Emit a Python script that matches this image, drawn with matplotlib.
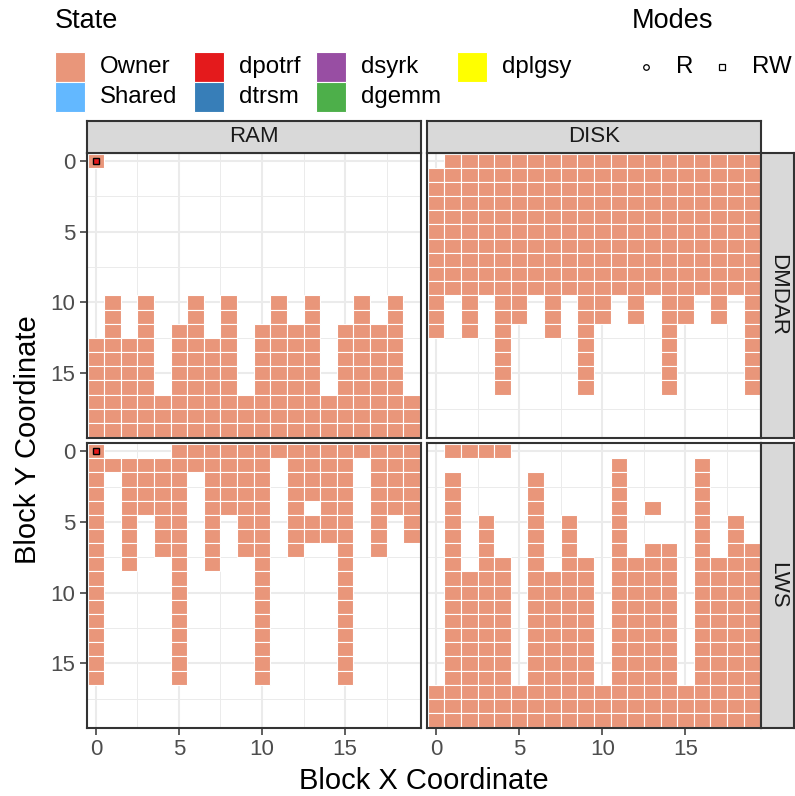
import numpy as np
import matplotlib
matplotlib.use('Agg')
import matplotlib.pyplot as plt

plt.rcParams['font.family'] = ['Liberation Sans', 'DejaVu Sans']

W, H = 795, 796

# ---- data: one string per block row (y = 0..19), one char per block column (x = 0..19)
dmdar_ram = [
    "#...................",
    "....................",
    "....................",
    "....................",
    "....................",
    "....................",
    "....................",
    "....................",
    "....................",
    "....................",
    ".#.#..#.#..#.#..#.#.",
    ".#.#..#.#..#.#..#.#.",
    ".#.#.##.#.####.####.",
    "####.####.####.####.",
    "####.####.####.####.",
    "####.####.####.####.",
    "####.####.####.####.",
    "####################",
    "####################",
    "####################",
]
dmdar_disk = [
    ".###################",
    "####################",
    "####################",
    "####################",
    "####################",
    "####################",
    "####################",
    "####################",
    "####################",
    "####################",
    "#.#.##.#.##.#.##.#.#",
    "#.#.##.#.##.#.##.#.#",
    "#.#.#..#.#....#....#",
    "....#....#....#....#",
    "....#....#....#....#",
    "....#....#....#....#",
    "....#....#....#....#",
    "....................",
    "....................",
    "....................",
]
lws_ram = [
    "#....###############",
    "###########.####.###",
    "#.####.####.####.###",
    "#.####.####.####.###",
    "#.####.####.#.##.###",
    "#.#.##.#.##.####.#.#",
    "#.#.##.#.##.####.#.#",
    "#.#.##.#.##.#..#.#..",
    "#.#..#.#..#....#....",
    "#....#....#....#....",
    "#....#....#....#....",
    "#....#....#....#....",
    "#....#....#....#....",
    "#....#....#....#....",
    "#....#....#....#....",
    "#....#....#....#....",
    "#....#....#....#....",
    "....................",
    "....................",
    "....................",
]
lws_disk = [
    ".####...............",
    "...........#....#...",
    ".#....#....#....#...",
    ".#....#....#....#...",
    ".#....#....#.#..#...",
    ".#.#..#.#..#....#.#.",
    ".#.#..#.#..#....#.#.",
    ".#.#..#.#..#.##.#.##",
    ".#.##.#.##.####.####",
    ".####.####.####.####",
    ".####.####.####.####",
    ".####.####.####.####",
    ".####.####.####.####",
    ".####.####.####.####",
    ".####.####.####.####",
    ".####.####.####.####",
    ".####.####.####.####",
    "####################",
    "####################",
    "####################",
]

schedulers = ['DMDAR', 'LWS']
memories = ['RAM', 'DISK']
grids = {('DMDAR', 'RAM'): dmdar_ram, ('DMDAR', 'DISK'): dmdar_disk,
         ('LWS', 'RAM'): lws_ram, ('LWS', 'DISK'): lws_disk}

# task access points (mode RW, task dpotrf)
rw_x = [0, 0]
rw_y = [0, 0]
rw_panel = [('DMDAR', 'RAM'), ('LWS', 'RAM')]

state_labels = ['Owner', 'Shared', 'dpotrf', 'dtrsm', 'dsyrk', 'dgemm', 'dplgsy']
state_colors = ['#E9967A', '#63B8FF', '#E41A1C', '#377EB8', '#984EA3', '#4DAF4A', '#FFFF00']
mode_labels = ['R', 'RW']
mode_markers = ['o', 's']

owner_col = state_colors[0]
dpotrf_col = state_colors[2]

fig = plt.figure(figsize=(W / 100, H / 100), dpi=100)


def px_axes(x0, y0, x1, y1):
    return fig.add_axes([x0 / W, 1 - y1 / H, (x1 - x0) / W, (y1 - y0) / H])


# ---- legend layer (pixel coordinates)
lg = fig.add_axes([0, 0, 1, 1])
lg.set_xlim(0, W)
lg.set_ylim(H, 0)
lg.axis('off')
lg.text(55, 21, 'State', fontsize=19.5, va='center', ha='left')
key_x = [55, 194, 316, 457]
key_y = [52, 82]
for i, (lab, col) in enumerate(zip(state_labels, state_colors)):
    c, r = divmod(i, 2)
    lg.add_patch(plt.Rectangle((key_x[c], key_y[r]), 30, 30, facecolor=col, edgecolor='white', lw=0.8))
    lg.text(key_x[c] + 45, key_y[r] + 15, lab, fontsize=17.3, va='center', ha='left')
lg.text(632, 21, 'Modes', fontsize=19.5, va='center', ha='left')
mode_x = [646, 722]
for mx, lab, mk in zip(mode_x, mode_labels, mode_markers):
    lg.plot([mx], [67], marker=mk, ms=4, mfc='white', mec='black', mew=0.9, ls='none')
    lg.text(mx + 30, 67, lab, fontsize=17.3, va='center', ha='left')

# ---- panels
col_x = [(86.7, 420.7), (426.7, 761.3)]
row_y = [(152.7, 438.0), (443.3, 728.0)]
border = '#333333'

for ri, sched in enumerate(schedulers):
    for ci, mem in enumerate(memories):
        x0, x1 = col_x[ci]
        y0, y1 = row_y[ri]
        ax = px_axes(x0, y0, x1, y1)
        ax.set_xlim(-0.56, 19.56)
        ax.set_ylim(19.56, -0.56)
        for v in [2.5, 7.5, 12.5, 17.5]:
            ax.axvline(v, color='#EBEBEB', lw=0.7, zorder=0)
            ax.axhline(v, color='#EBEBEB', lw=0.7, zorder=0)
        for v in [0, 5, 10, 15]:
            ax.axvline(v, color='#EBEBEB', lw=1.5, zorder=0)
            ax.axhline(v, color='#EBEBEB', lw=1.5, zorder=0)

        g = grids[(sched, mem)]
        ys, xs = np.nonzero(np.array([[ch == '#' for ch in row] for row in g]))
        ax.bar(xs, 1, bottom=ys - 0.5, width=1, color=owner_col,
               edgecolor='white', linewidth=0.8, zorder=2)

        for px, py, pn in zip(rw_x, rw_y, rw_panel):
            if pn == (sched, mem):
                ax.plot([px], [py], marker='s', ms=5, mfc=dpotrf_col, mec='black',
                        mew=1.0, ls='none', zorder=3)

        for s in ax.spines.values():
            s.set_color(border)
            s.set_linewidth(1.5)
        ax.set_xticks([0, 5, 10, 15])
        ax.set_yticks([0, 5, 10, 15])
        ax.tick_params(length=5, width=1.1, color=border, labelcolor='#4D4D4D',
                       labelsize=16, pad=3)
        if ci != 0:
            ax.tick_params(axis='y', left=False, labelleft=False)
        if ri != 1:
            ax.tick_params(axis='x', bottom=False, labelbottom=False)

        # strips
        if ri == 0:
            st = px_axes(x0, 120.7, x1, y0)
            st.set_facecolor('#D9D9D9')
            st.set_xticks([])
            st.set_yticks([])
            for s in st.spines.values():
                s.set_color(border)
                s.set_linewidth(1.5)
            st.text(0.5, 0.5, mem, transform=st.transAxes, ha='center', va='center',
                    fontsize=16, color='#1A1A1A')
        if ci == 1:
            st = px_axes(x1, y0, 793.5, y1)
            st.set_facecolor('#D9D9D9')
            st.set_xticks([])
            st.set_yticks([])
            for s in st.spines.values():
                s.set_color(border)
                s.set_linewidth(1.5)
            st.text(0.5, 0.5, sched, transform=st.transAxes, ha='center', va='center',
                    fontsize=16, color='#1A1A1A', rotation=-90)

fig.text(424 / W, 1 - 781 / H, 'Block X Coordinate', fontsize=21, ha='center', va='center')
fig.text(28 / W, 1 - 440 / H, 'Block Y Coordinate', fontsize=21, ha='center', va='center',
         rotation=90)

fig.savefig('out.png', dpi=100)
